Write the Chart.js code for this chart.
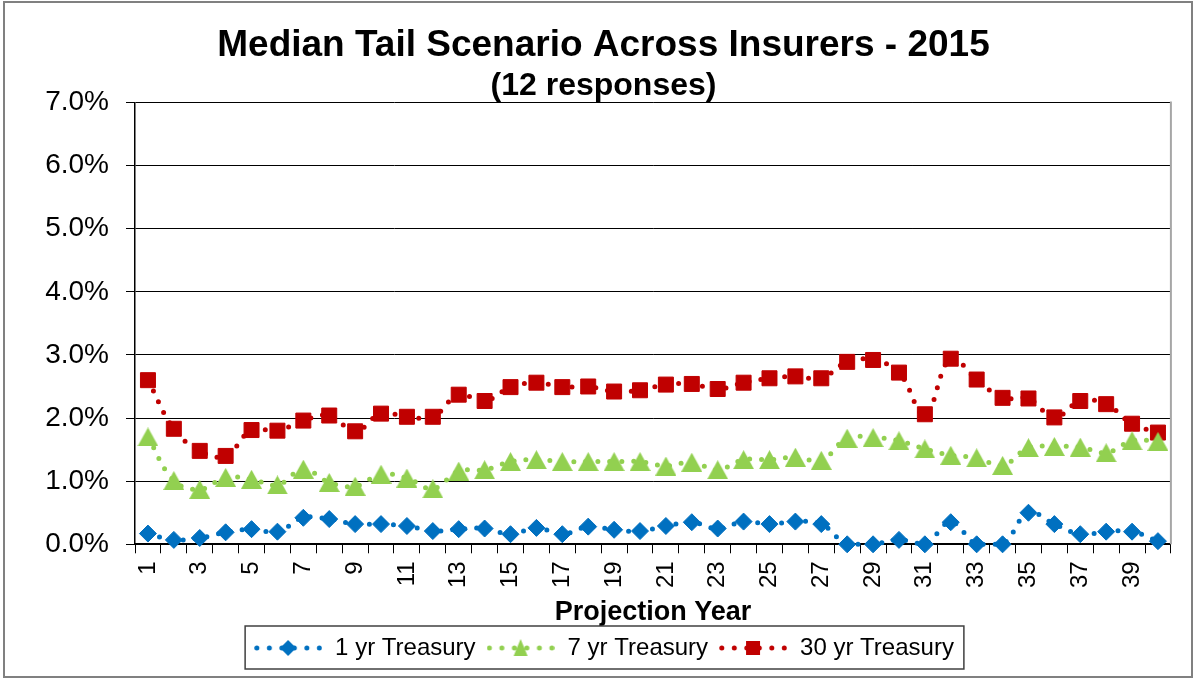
<!DOCTYPE html>
<html><head><meta charset="utf-8">
<script src="https://cdn.jsdelivr.net/npm/chart.js@4.4.0/dist/chart.umd.min.js"></script>
<style>html,body{margin:0;padding:0;background:#fff;}canvas{display:block;}</style>
</head><body>
<canvas id="c" width="1195" height="678"></canvas>
<script>
const years = [1,2,3,4,5,6,7,8,9,10,11,12,13,14,15,16,17,18,19,20,21,22,23,24,25,26,27,28,29,30,31,32,33,34,35,36,37,38,39,40];
const oneYr = [0.17,0.07,0.10,0.19,0.24,0.20,0.42,0.40,0.32,0.32,0.29,0.21,0.24,0.25,0.16,0.26,0.16,0.28,0.23,0.21,0.29,0.35,0.25,0.36,0.32,0.36,0.32,0.00,0.00,0.07,0.00,0.35,0.00,0.00,0.50,0.32,0.16,0.20,0.20,0.05];
const sevenYr = [1.70,1.01,0.87,1.06,1.03,0.94,1.19,0.98,0.92,1.11,1.05,0.88,1.16,1.18,1.31,1.34,1.31,1.31,1.31,1.31,1.24,1.30,1.18,1.34,1.34,1.38,1.33,1.68,1.69,1.64,1.51,1.41,1.37,1.25,1.53,1.55,1.54,1.45,1.64,1.63];
const thirtyYr = [2.60,1.83,1.48,1.40,1.81,1.80,1.96,2.04,1.79,2.07,2.02,2.02,2.37,2.27,2.49,2.56,2.49,2.50,2.42,2.44,2.53,2.54,2.46,2.56,2.63,2.66,2.63,2.89,2.92,2.72,2.06,2.94,2.61,2.32,2.31,2.01,2.27,2.22,1.91,1.77];
const seriesNames = ['1 yr Treasury','7 yr Treasury','30 yr Treasury'];
const titleText = 'Median Tail Scenario Across Insurers - 2015';
const subtitleText = '(12 responses)';
const xTitle = 'Projection Year';
const yMin = 0, yMax = 7, yStep = 1;

const BLUE = '#0070C0', GREEN = '#92D050', RED = '#C00000';
Chart.defaults.font.family = "'Liberation Sans', Arial, sans-serif";
Chart.defaults.color = '#000';

function triCanvas(w, h, color) {
  const c = document.createElement('canvas'); c.width = w; c.height = h;
  const g = c.getContext('2d'); g.fillStyle = color;
  g.beginPath(); g.moveTo(w/2, 0); g.lineTo(w, h); g.lineTo(0, h); g.closePath(); g.fill();
  return c;
}
const triImg = triCanvas(21, 19, GREEN);

function legendImg(color, marker) {
  const c = document.createElement('canvas'); c.width = 68; c.height = 22;
  const g = c.getContext('2d'); g.fillStyle = color;
  [-31.25,-18.75,-6.25,6.25,18.75,31.25].forEach(dx => { g.beginPath(); g.arc(34+dx, 11, 2.5, 0, Math.PI*2); g.fill(); });
  g.beginPath();
  if (marker === 'diamond') { g.moveTo(34,3); g.lineTo(42,11); g.lineTo(34,19); g.lineTo(26,11); }
  else if (marker === 'tri') { g.moveTo(34,2); g.lineTo(41,19); g.lineTo(27,19); }
  else { g.rect(27,4,14,14); }
  g.closePath(); g.fill();
  return c;
}
const legendImgs = [legendImg(BLUE,'diamond'), legendImg(GREEN,'tri'), legendImg(RED,'square')];

const framePlugin = {
  id: 'frames',
  beforeDatasetsDraw(chart) {
    const {ctx, chartArea: a} = chart;
    ctx.save();
    ctx.strokeStyle = '#a6a6a6'; ctx.lineWidth = 2;
    ctx.beginPath(); ctx.moveTo(a.right, a.top - 1); ctx.lineTo(a.right, a.bottom); ctx.stroke();
    ctx.restore();
  },
  afterDraw(chart) {
    const ctx = chart.ctx;
    ctx.save();
    const hb = chart.legend && chart.legend.legendHitBoxes;
    if (hb && hb.length) {
      const l = Math.min(...hb.map(h => h.left)) - 8;
      const r = Math.max(...hb.map(h => h.left + h.width)) + 10;
      const t = Math.min(...hb.map(h => h.top)) - 10;
      const b = Math.max(...hb.map(h => h.top + h.height)) + 9;
      ctx.strokeStyle = '#404040'; ctx.lineWidth = 1.5;
      ctx.strokeRect(l, t, r - l, b - t);
    }
    ctx.strokeStyle = '#808080'; ctx.lineWidth = 2;
    ctx.strokeRect(4, 2, 1188, 675);
    ctx.restore();
  }
};

const common = { borderWidth: 5, borderDash: [0, 12], borderCapStyle: 'round', tension: 0.4, pointBorderWidth: 1, fill: false, clip: false };

new Chart(document.getElementById('c'), {
  type: 'line',
  data: {
    labels: years,
    datasets: [
      Object.assign({}, common, { label: seriesNames[0], data: oneYr, borderColor: BLUE, backgroundColor: BLUE, pointBackgroundColor: BLUE, pointBorderColor: BLUE, pointStyle: 'rectRot', pointRadius: 8.5 }),
      Object.assign({}, common, { label: seriesNames[1], data: sevenYr, borderColor: GREEN, backgroundColor: GREEN, pointBackgroundColor: GREEN, pointBorderColor: GREEN, pointStyle: triImg, pointRadius: 10 }),
      Object.assign({}, common, { label: seriesNames[2], data: thirtyYr, borderColor: RED, backgroundColor: RED, pointBackgroundColor: RED, pointBorderColor: RED, pointStyle: 'rect', pointRadius: 10.6 })
    ]
  },
  options: {
    responsive: false,
    animation: false,
    devicePixelRatio: 1,
    layout: { padding: { left: 32, right: 20, top: 0, bottom: 8 } },
    events: [],
    plugins: {
      title: { display: true, text: titleText, font: { size: 37, weight: 'bold', lineHeight: 1.2 }, color: '#000', padding: { top: 24, bottom: 0 } },
      subtitle: { display: true, text: subtitleText, font: { size: 32, weight: 'bold', lineHeight: 1.0 }, color: '#000', padding: { top: 2, bottom: 0 } },
      legend: {
        position: 'bottom',
        labels: {
          usePointStyle: true, pointStyleWidth: 70, padding: 10, color: '#000',
          font: { size: 24 },
          generateLabels(chart) {
            const base = Chart.defaults.plugins.legend.labels.generateLabels(chart);
            base.forEach((l, i) => { l.pointStyle = legendImgs[i]; });
            return base;
          }
        }
      },
      tooltip: { enabled: false }
    },
    scales: {
      x: {
        offset: true,
        grid: { offset: true, drawOnChartArea: false, tickLength: 9, color: '#000', lineWidth: 1 },
        border: { color: '#000', width: 2 },
        ticks: {
          autoSkip: false, minRotation: 90, maxRotation: 90, padding: 8, color: '#000', font: { size: 24 },
          callback(v, i) { return i % 2 === 0 ? String(years[i]) : ''; }
        },
        title: { display: true, text: xTitle, font: { size: 27, weight: 'bold', lineHeight: 1.0 }, color: '#000', padding: { top: 3, bottom: 0 } }
      },
      y: {
        min: yMin, max: yMax,
        afterFit(scale) { scale.width = 103; },
        grid: { color: '#000', lineWidth: 1, tickLength: 9 },
        border: { color: '#000', width: 1.5 },
        ticks: { stepSize: yStep, padding: 17, color: '#000', font: { size: 28 }, callback(v) { return v.toFixed(1) + '%'; } }
      }
    }
  },
  plugins: [framePlugin]
});
</script>
</body></html>
